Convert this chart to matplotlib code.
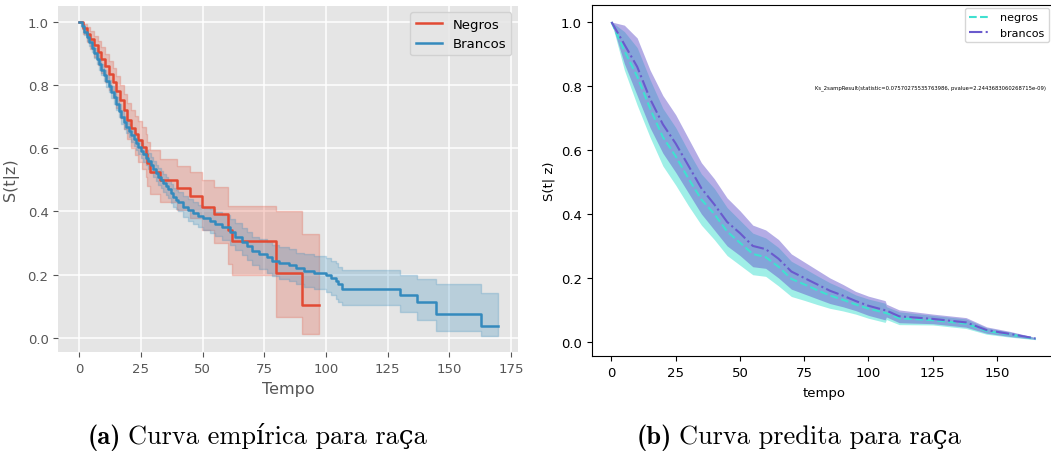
import matplotlib
matplotlib.use("Agg")
import matplotlib.pyplot as plt

# ---- left panel: Kaplan-Meier (empirical) ----
neg_t = [0, 1.5, 3, 4.5, 6, 7.5, 9, 10.5, 12, 13.5, 15, 16.5, 18, 19.5, 21, 22.5, 24, 25.5, 27, 27.5,
         28.7, 32.8, 39.5, 44.9, 49.7, 54.8, 60.1, 61.8, 79.6, 90.2, 97.3]
neg_s = [1.0, 0.98, 0.962, 0.945, 0.925, 0.905, 0.882, 0.858, 0.835, 0.81, 0.782, 0.752, 0.72, 0.69, 0.665, 0.645, 0.625, 0.605, 0.58, 0.552,
         0.526, 0.50, 0.475, 0.45, 0.413, 0.392, 0.34, 0.306, 0.207, 0.104, 0.104]
neg_lo = [1.0, 0.96, 0.935, 0.912, 0.888, 0.864, 0.838, 0.81, 0.784, 0.757, 0.727, 0.695, 0.66, 0.628, 0.601, 0.579, 0.557, 0.535, 0.508, 0.48,
          0.455, 0.43, 0.405, 0.38, 0.34, 0.30, 0.233, 0.20, 0.066, 0.012, 0.012]
neg_hi = [1.0, 0.993, 0.982, 0.97, 0.955, 0.938, 0.918, 0.897, 0.876, 0.853, 0.828, 0.801, 0.772, 0.744, 0.721, 0.703, 0.685, 0.667, 0.644, 0.62,
          0.595, 0.567, 0.545, 0.526, 0.50, 0.478, 0.416, 0.416, 0.40, 0.329, 0.329]

bra_t = [0, 1, 2, 3, 4, 5, 6, 7, 8, 9, 10, 11, 12, 13, 14, 15, 16, 17, 18, 19,
         20, 21, 22, 23, 24, 25, 26, 27, 28, 29, 30, 31, 32, 33, 34, 35, 36, 37, 38, 39,
         40, 42, 44, 46, 48, 50, 53, 55, 58, 61, 63, 66, 68, 70, 73, 76, 78, 81, 85, 88,
         91, 95, 100, 102, 104, 105, 106.4, 130, 136.7, 144.5, 163, 169.5]
bra_s = [1.0, 0.985, 0.968, 0.951, 0.934, 0.917, 0.9, 0.882, 0.865, 0.848, 0.83, 0.812, 0.795, 0.777, 0.76, 0.74, 0.718, 0.698, 0.682, 0.668,
         0.655, 0.642, 0.63, 0.617, 0.605, 0.592, 0.58, 0.57, 0.56, 0.547, 0.535, 0.522, 0.51, 0.5, 0.49, 0.48, 0.47, 0.457, 0.445, 0.437,
         0.43, 0.415, 0.405, 0.395, 0.385, 0.378, 0.37, 0.36, 0.35, 0.335, 0.32, 0.305, 0.29, 0.275, 0.265, 0.255, 0.245, 0.238, 0.23, 0.22,
         0.212, 0.207, 0.198, 0.19, 0.18, 0.17, 0.154, 0.136, 0.113, 0.076, 0.0386, 0.0386]
bra_hi = [1.0, 0.993, 0.978, 0.962, 0.946, 0.93, 0.915, 0.898, 0.882, 0.866, 0.848, 0.831, 0.814, 0.797, 0.78, 0.76, 0.738, 0.719, 0.703, 0.689,
          0.676, 0.664, 0.652, 0.64, 0.628, 0.616, 0.604, 0.594, 0.585, 0.572, 0.56, 0.548, 0.537, 0.527, 0.518, 0.508, 0.499, 0.486, 0.475, 0.467,
          0.46, 0.448, 0.439, 0.43, 0.42, 0.414, 0.408, 0.399, 0.39, 0.376, 0.362, 0.348, 0.334, 0.32, 0.312, 0.303, 0.294, 0.288, 0.28, 0.27,
          0.264, 0.259, 0.252, 0.245, 0.236, 0.226, 0.214, 0.20, 0.185, 0.17, 0.141, 0.141]
bra_lo = [1.0, 0.977, 0.958, 0.94, 0.922, 0.904, 0.885, 0.866, 0.848, 0.83, 0.812, 0.793, 0.776, 0.757, 0.74, 0.72, 0.698, 0.677, 0.661, 0.647,
          0.634, 0.62, 0.608, 0.594, 0.582, 0.568, 0.556, 0.546, 0.535, 0.522, 0.51, 0.496, 0.483, 0.473, 0.462, 0.452, 0.441, 0.428, 0.415, 0.407,
          0.40, 0.382, 0.371, 0.36, 0.35, 0.342, 0.332, 0.321, 0.31, 0.294, 0.278, 0.262, 0.246, 0.23, 0.218, 0.207, 0.196, 0.188, 0.18, 0.17,
          0.16, 0.155, 0.144, 0.135, 0.124, 0.114, 0.104, 0.081, 0.057, 0.022, 0.005, 0.005]

# ---- right panel: predicted curves ----
pred_t = [0, 5, 10, 15, 20, 25, 30, 35, 40, 45, 50, 55, 60, 65, 70, 75, 80, 85, 90, 95, 100, 106.5, 107, 112, 125, 138, 146, 155, 165]
pbra_s = [1.0, 0.93, 0.86, 0.76, 0.68, 0.62, 0.55, 0.48, 0.43, 0.375, 0.34, 0.30, 0.29, 0.26, 0.22, 0.20, 0.18, 0.16, 0.145, 0.128, 0.113, 0.099, 0.098, 0.08, 0.072, 0.061, 0.037, 0.025, 0.011]
pbra_hi = [1.0, 0.99, 0.95, 0.85, 0.77, 0.71, 0.635, 0.56, 0.51, 0.45, 0.41, 0.365, 0.35, 0.32, 0.275, 0.25, 0.225, 0.2, 0.18, 0.158, 0.143, 0.129, 0.118, 0.10, 0.087, 0.076, 0.047, 0.033, 0.014]
pbra_lo = [1.0, 0.87, 0.77, 0.67, 0.59, 0.53, 0.465, 0.40, 0.35, 0.30, 0.27, 0.235, 0.23, 0.20, 0.165, 0.15, 0.135, 0.12, 0.11, 0.098, 0.083, 0.069, 0.078, 0.06, 0.057, 0.046, 0.027, 0.017, 0.008]
pneg_s = [1.0, 0.91, 0.83, 0.73, 0.64, 0.58, 0.51, 0.445, 0.40, 0.345, 0.31, 0.275, 0.265, 0.235, 0.197, 0.18, 0.162, 0.145, 0.132, 0.117, 0.104, 0.091, 0.09, 0.074, 0.068, 0.057, 0.034, 0.023, 0.01]
pneg_hi = [1.0, 0.97, 0.92, 0.82, 0.73, 0.67, 0.595, 0.525, 0.48, 0.42, 0.38, 0.34, 0.325, 0.295, 0.252, 0.23, 0.207, 0.185, 0.167, 0.147, 0.134, 0.121, 0.11, 0.094, 0.083, 0.072, 0.044, 0.031, 0.013]
pneg_lo = [1.0, 0.85, 0.74, 0.64, 0.55, 0.49, 0.425, 0.365, 0.32, 0.27, 0.24, 0.21, 0.205, 0.175, 0.142, 0.13, 0.117, 0.105, 0.097, 0.087, 0.074, 0.061, 0.07, 0.054, 0.053, 0.042, 0.024, 0.015, 0.007]

ks_text = 'Ks_2sampResult(statistic=0.07570275535763986, pvalue=2.2443683060268715e-09)'

W, H = 1051, 456
fig = plt.figure(figsize=(W / 100, H / 100), dpi=100)

def box(x0, y0, x1, y1):
    return [x0 / W, 1 - y1 / H, (x1 - x0) / W, (y1 - y0) / H]

# left, ggplot-looking axes
ax1 = fig.add_axes(box(58.3, 6.7, 518, 353.3))
ax1.set_facecolor('#E5E5E5')
for sp in ax1.spines.values():
    sp.set_visible(False)
ax1.grid(True, color='white', lw=1.1)
ax1.set_axisbelow(True)
red, blue = '#E24A33', '#348ABD'
ax1.fill_between(neg_t, neg_lo, neg_hi, step='post', color=red, alpha=0.25, lw=1)
ax1.fill_between(bra_t, bra_lo, bra_hi, step='post', color=blue, alpha=0.25, lw=1)
ax1.step(neg_t, neg_s, where='post', color=red, lw=1.8, label='Negros')
ax1.step(bra_t, bra_s, where='post', color=blue, lw=1.8, label='Brancos')
ax1.set_xlim(-8.5, 177.8)
ax1.set_ylim(-0.045, 1.05)
ax1.set_xticks([0, 25, 50, 75, 100, 125, 150, 175])
ax1.set_yticks([0.0, 0.2, 0.4, 0.6, 0.8, 1.0])
ax1.tick_params(colors='#555555', labelsize=9.5, labelcolor='#555555')
ax1.set_xlabel('Tempo', color='#555555', fontsize=11.5, labelpad=4)
ax1.set_ylabel('S(t|z)', color='#555555', fontsize=11.5, labelpad=6)
ax1.legend(loc='upper right', fontsize=9.5, facecolor='#E5E5E5', edgecolor='0.8', framealpha=0.8)

# right axes
ax2 = fig.add_axes(box(591.7, 6, 1056, 357))
ax2.fill_between(pred_t, pneg_lo, pneg_hi, color='turquoise', alpha=0.5, lw=0)
ax2.fill_between(pred_t, pbra_lo, pbra_hi, color='slateblue', alpha=0.5, lw=0)
ax2.plot(pred_t, pneg_s, '--', color='turquoise', lw=1.5, label='negros')
ax2.plot(pred_t, pbra_s, '-.', color='slateblue', lw=1.5, label='brancos')
ax2.set_xlim(-7.7, 173)
ax2.set_ylim(-0.044, 1.053)
ax2.set_xticks([0, 25, 50, 75, 100, 125, 150])
ax2.set_yticks([0.0, 0.2, 0.4, 0.6, 0.8, 1.0])
ax2.tick_params(labelsize=9.5)
ax2.set_xlabel('tempo', fontsize=9.5, labelpad=5)
ax2.set_ylabel('S(t| z)', fontsize=9.5)
ax2.text(79.3, 0.797, ks_text, fontsize=3.75, va='center', ha='left')
ax2.legend(loc='upper right', bbox_to_anchor=((1049 - 591.7) / (1056 - 591.7), 1 - 3 / 351),
           fontsize=8, borderaxespad=0)

# captions
def caption(x, label, rest):
    yb = 1 - 444 / H
    t1 = fig.text(x / W, yb, label, family='cmb10', fontsize=19, va='baseline')
    fig.canvas.draw()
    ext = t1.get_window_extent()
    fig.text((ext.x1 + 7) / W, yb, rest, family=['cmr10', 'DejaVu Serif'], fontsize=19, va='baseline')

caption(88, '(a)', 'Curva empírica para raça')
caption(637, '(b)', 'Curva predita para raça')

fig.savefig('out.png', dpi=100)
